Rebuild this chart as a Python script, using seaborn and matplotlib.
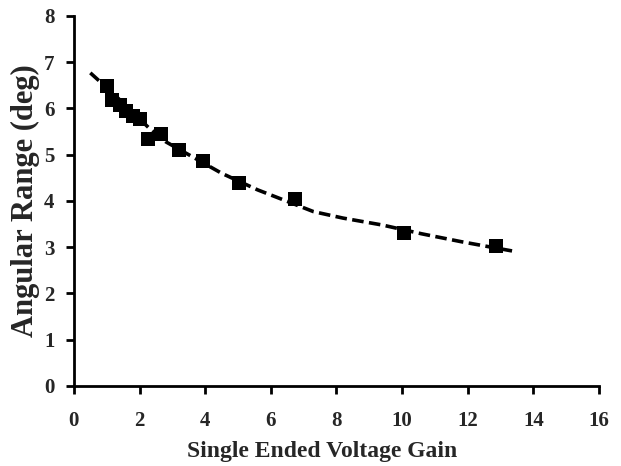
import numpy as np
import pandas as pd
import matplotlib
matplotlib.use("Agg")
import matplotlib.pyplot as plt
import seaborn as sns

# measured points
gain = [1.01, 1.16, 1.40, 1.59, 1.80, 2.01, 2.26, 2.65, 3.20, 3.93, 5.03, 6.74, 10.06, 12.87]
angle = [6.49, 6.18, 6.08, 5.95, 5.84, 5.77, 5.34, 5.45, 5.10, 4.86, 4.39, 4.04, 3.31, 3.03]

# trend line
trend_x = [0.5, 1.0, 1.5, 2.3, 2.8, 3.5, 4.5, 5.6, 6.0, 7.3, 8.2, 9.4, 10.6, 11.8, 13.35]
trend_y = [6.77, 6.45, 6.12, 5.57, 5.28, 5.00, 4.60, 4.24, 4.13, 3.77, 3.63, 3.48, 3.29, 3.12, 2.92]

df = pd.DataFrame({"gain": gain, "angle": angle})
trend = pd.DataFrame({"x": trend_x, "y": trend_y})

sns.set_style("ticks")
plt.rcParams['font.family'] = ['Liberation Serif', 'DejaVu Serif']
plt.rcParams['font.weight'] = 'bold'

fig = plt.figure(figsize=(6.21, 4.66), dpi=100)
ax = fig.add_axes([0.119, 0.1717, 0.8456, 0.794])

sns.lineplot(data=trend, x="x", y="y", ax=ax, color="black", lw=2.6,
             linestyle=(0, (3.2, 1.5)), zorder=2)
sns.scatterplot(data=df, x="gain", y="angle", ax=ax, marker="s", s=110,
                color="black", edgecolor="black", linewidth=0, zorder=3)

ax.set_xlim(0, 16)
ax.set_ylim(0, 8)
ax.set_xticks(range(0, 17, 2))
ax.set_yticks(range(0, 9))
ax.set_xlabel("Single Ended Voltage Gain", fontsize=17, fontweight="bold")
ax.set_ylabel("Angular Range (deg)", fontsize=22, fontweight="bold")
ax.xaxis.set_label_coords(0.472, -0.15)
ax.yaxis.set_label_coords(-0.064, 0.5)
ax.tick_params(axis="both", labelsize=15, width=2, length=6, direction="out", color="black")
ax.tick_params(axis="x", pad=12)
ax.tick_params(axis="y", pad=8)
for lbl in ax.get_xticklabels() + ax.get_yticklabels():
    lbl.set_fontweight("bold")
for side in ["left", "bottom"]:
    ax.spines[side].set_linewidth(2)
    ax.spines[side].set_color("black")
sns.despine(ax=ax)

fig.savefig("out.png", dpi=100)
